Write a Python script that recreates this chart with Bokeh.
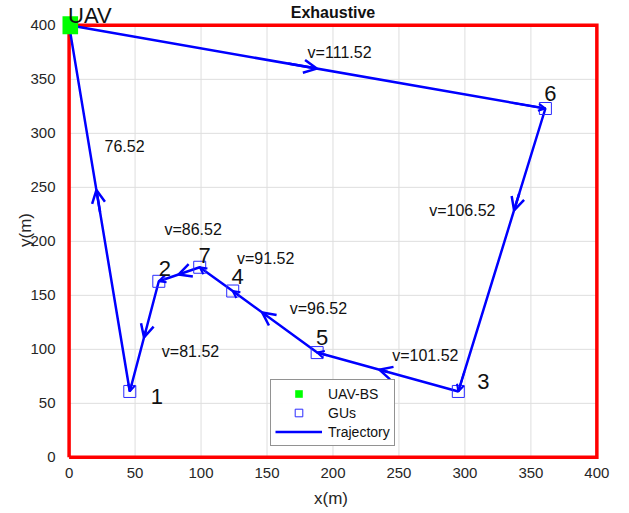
from bokeh.plotting import figure
from bokeh.models import (Arrow, OpenHead, Label, ColumnDataSource, Legend,
                          LegendItem, Range1d, FixedTicker)
from bokeh.embed import file_html
from bokeh.resources import INLINE

# ---------------- data ----------------
uav_x = [0]
uav_y = [400]
gu_id = ["1", "2", "3", "4", "5", "6", "7"]
gu_x = [46, 68, 295, 124, 188, 361, 99]
gu_y = [61, 163, 61, 154, 97, 323, 176]
visit_order = [6, 3, 5, 4, 7, 2, 1]           # GU ids visited after leaving the UAV-BS
seg_labels = ["v=111.52", "v=106.52", "v=101.52", "v=96.52",
              "v=91.52", "v=86.52", "v=81.52", "76.52"]
x_ticks = [0, 50, 100, 150, 200, 250, 300, 350, 400]
y_ticks = [0, 50, 100, 150, 200, 250, 300, 350, 400]

# style / placement helpers
seg_label_x = [205, 298, 270, 189, 149, 94, 92, 42]
seg_label_y = [375, 229, 94, 138, 184, 211, 98, 288]
arrow_t = [0.52, 0.36, 0.56, 0.65, None, 0.52, 0.51, 0.55]   # where the direction arrow sits
num_dx = [27, 6, 25, 5, 5, 5, 5]
num_dy = [-5, 13, 10, 15, 15, 15, 12]

BLUE = "#0000ff"
GREEN = "#00ff00"
FONT = "Liberation Sans"
TXT = "#262626"
DARK = "#111111"

# trajectory path
tx = [uav_x[0]] + [gu_x[i - 1] for i in visit_order] + [uav_x[0]]
ty = [uav_y[0]] + [gu_y[i - 1] for i in visit_order] + [uav_y[0]]

xmin, xmax = x_ticks[0], x_ticks[-1]
ymin, ymax = y_ticks[0], y_ticks[-1]

p = figure(frame_width=537, frame_height=459,
           x_range=Range1d(xmin - 5, xmax + 2), y_range=Range1d(ymin - 2, ymax + 23),
           output_backend="svg", toolbar_location=None,
           min_border_left=62, min_border_right=13, min_border_top=0, min_border_bottom=53)

p.outline_line_color = None
p.background_fill_color = "white"
p.grid.visible = False
p.xaxis.ticker = FixedTicker(ticks=x_ticks)
p.yaxis.ticker = FixedTicker(ticks=y_ticks)
for ax in (p.xaxis, p.yaxis):
    ax.axis_line_color = None
    ax.major_tick_line_color = None
    ax.minor_tick_line_color = None
    ax.major_label_text_font = FONT
    ax.major_label_text_font_size = "15px"
    ax.major_label_text_color = TXT
    ax.axis_label_text_font = FONT
    ax.axis_label_text_font_size = "17px"
    ax.axis_label_text_font_style = "normal"
    ax.axis_label_text_color = TXT
p.xaxis.axis_label = "x(m)"
p.yaxis.axis_label = "y(m)"
p.xaxis.major_label_standoff = 2
p.yaxis.major_label_standoff = 1
p.xaxis.axis_label_standoff = 8
p.yaxis.axis_label_standoff = -8

# grid lines (bounded to the axes box)
GRID = "#dedede"
p.segment(x0=x_ticks, y0=[ymin] * len(x_ticks), x1=x_ticks, y1=[ymax] * len(x_ticks),
          line_color=GRID, line_width=1)
p.segment(x0=[xmin] * len(y_ticks), y0=y_ticks, x1=[xmax] * len(y_ticks), y1=y_ticks,
          line_color=GRID, line_width=1)
# red axes box
p.line([xmin, xmax, xmax, xmin, xmin], [ymin, ymin, ymax, ymax, ymin],
       line_color="red", line_width=3.5, line_join="miter")

traj = p.line(tx, ty, line_color=BLUE, line_width=2.5)
gus = p.scatter(gu_x, gu_y, marker="square", size=12, fill_color=None,
                line_color="#2a2aff", line_width=1)
uav = p.scatter(uav_x, uav_y, marker="square", size=18, fill_color=GREEN,
                line_color=None)

# direction arrows along each segment
mx0, my0, mx1, my1 = [], [], [], []
ex0, ey0, ex1, ey1 = [], [], [], []
for k in range(len(tx) - 1):
    x0, y0, x1, y1 = tx[k], ty[k], tx[k + 1], ty[k + 1]
    t = arrow_t[k]
    if t is not None:
        mx0.append(x0 + (x1 - x0) * (t - 0.06)); my0.append(y0 + (y1 - y0) * (t - 0.06))
        mx1.append(x0 + (x1 - x0) * t); my1.append(y0 + (y1 - y0) * t)
    if k < len(tx) - 2:
        ex0.append(x0 + (x1 - x0) * 0.93); ey0.append(y0 + (y1 - y0) * 0.93)
        ex1.append(x1); ey1.append(y1)

p.add_layout(Arrow(end=OpenHead(size=13, line_color=BLUE, line_width=2.5),
                   source=ColumnDataSource(dict(x0=mx0, y0=my0, x1=mx1, y1=my1)),
                   x_start="x0", y_start="y0", x_end="x1", y_end="y1",
                   line_color=BLUE, line_width=2.5))
p.add_layout(Arrow(end=OpenHead(size=7, line_color=BLUE, line_width=2),
                   source=ColumnDataSource(dict(x0=ex0, y0=ey0, x1=ex1, y1=ey1)),
                   x_start="x0", y_start="y0", x_end="x1", y_end="y1",
                   line_color=BLUE, line_width=2))

# speed labels
for t, lx, ly in zip(seg_labels, seg_label_x, seg_label_y):
    p.add_layout(Label(x=lx, y=ly, text=t, text_font=FONT, text_font_size="16px",
                       text_color=DARK, text_align="center", text_baseline="middle"))

# GU numbers
for gid, gx, gy, dx, dy in zip(gu_id, gu_x, gu_y, num_dx, num_dy):
    p.add_layout(Label(x=gx, y=gy, x_offset=dx, y_offset=dy, text=gid, text_font=FONT,
                       text_font_size="22px", text_color=DARK,
                       text_align="center", text_baseline="middle"))

p.add_layout(Label(x=uav_x[0], y=uav_y[0], x_offset=-1, y_offset=10, text="UAV",
                   text_font=FONT, text_font_size="22px", text_color=DARK,
                   text_align="left", text_baseline="middle"))

# title
p.add_layout(Label(x=(xmin + xmax) / 2, y=ymax, y_offset=13, text="Exhaustive",
                   text_font=FONT, text_font_size="16px", text_font_style="bold",
                   text_color=DARK, text_align="center", text_baseline="middle"))

legend = Legend(items=[LegendItem(label="UAV-BS", renderers=[uav]),
                       LegendItem(label="GUs", renderers=[gus]),
                       LegendItem(label="Trajectory", renderers=[traj])],
                location=(208, 13))
legend.border_line_color = TXT
legend.border_line_width = 1
legend.label_text_font = FONT
legend.label_text_font_size = "14px"
legend.label_text_color = DARK
legend.glyph_width = 47
legend.glyph_height = 19
legend.label_height = 19
legend.spacing = 0
legend.padding = 4
legend.margin = 0
legend.label_standoff = 6
p.add_layout(legend)

open("out.html", "w").write(file_html(p, INLINE))
